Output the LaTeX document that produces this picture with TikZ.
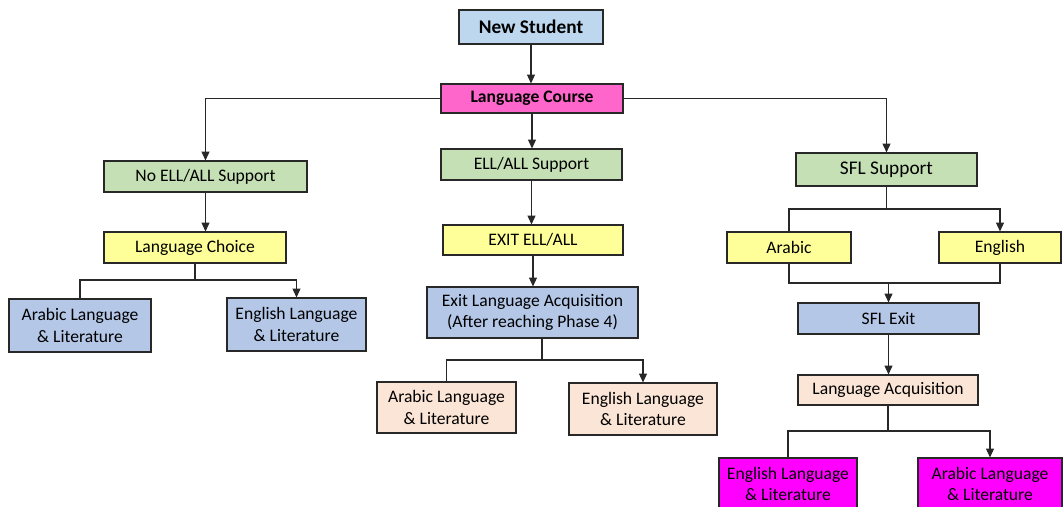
\documentclass[tikz,border=0pt]{standalone}
\usepackage{fontspec}
\setmainfont{Carlito}
\usepackage{tikz}
\usetikzlibrary{arrows.meta}
\definecolor{myblue}{RGB}{189,215,238}
\definecolor{myboxblue}{RGB}{180,199,231}
\definecolor{mygreen}{RGB}{197,224,180}
\definecolor{myyellow}{RGB}{255,255,153}
\definecolor{mypeach}{RGB}{251,229,214}
\definecolor{mypink}{RGB}{255,102,204}
\definecolor{mymagenta}{RGB}{255,0,255}
\definecolor{myline}{RGB}{40,40,40}
\tikzset{
		boxStyle/.style = 	{draw=myline, line width=0.6pt, align=center, inner sep=1pt, font=\fontsize{10}{12}\selectfont},
		edgeStyle/.style = 	{line width=0.6pt, draw=myline},
		arrowStyle/.style = 	{edgeStyle, -{Triangle[length=5pt,width=4.5pt]}},
		green/.style = 	{boxStyle, fill=mygreen},
		yellow/.style = 	{boxStyle, fill=myyellow},
		blueBox/.style = 	{boxStyle, fill=myboxblue},
		peach/.style = 	{boxStyle, fill=mypeach}
}

\begin{document}
\begin{tikzpicture}
  \useasboundingbox (0,0) rectangle (21.26,-10.14);

  % top of the tree
  \node [boxStyle, fill=myblue, minimum width=2.88cm, minimum height=0.68cm, font=\fontsize{11}{13}\selectfont\bfseries] (newStudent) at (10.62,-0.54) {New Student};
  \node [boxStyle, fill=mypink, minimum width=3.64cm, minimum height=0.58cm, font=\fontsize{10}{12}\selectfont\bfseries] (langCourse) at (10.64,-1.97) {Language Course};

  % left branch
  \node [green, minimum width=4.06cm, minimum height=0.62cm] (noSupport) at (4.11,-3.53) {No ELL/ALL Support};
  \node [yellow, minimum width=3.64cm, minimum height=0.62cm] (langChoice) at (3.90,-4.95) {Language Choice};
  \node [blueBox, minimum width=2.84cm, minimum height=1.06cm] (arabicA) at (1.60,-6.51) {Arabic Language\\ \& Literature};
  \node [blueBox, minimum width=2.78cm, minimum height=1.06cm] (englishA) at (5.93,-6.49) {English Language\\ \& Literature};

  % middle branch
  \node [green, minimum width=3.62cm, minimum height=0.62cm] (support) at (10.63,-3.29) {ELL/ALL Support};
  \node [yellow, minimum width=3.60cm, minimum height=0.60cm] (exitSupport) at (10.66,-4.80) {EXIT ELL/ALL};
  \node [blueBox, minimum width=4.22cm, minimum height=1.02cm] (exitAcq) at (10.65,-6.25) {Exit Language Acquisition\\ (After reaching Phase 4)};
  \node [peach, minimum width=2.78cm, minimum height=1.02cm] (arabicB) at (8.93,-8.15) {Arabic Language\\ \& Literature};
  \node [peach, minimum width=2.96cm, minimum height=1.04cm] (englishB) at (12.86,-8.18) {English Language\\ \& Literature};

  % right branch
  \node [green, minimum width=3.62cm, minimum height=0.66cm, font=\fontsize{11}{13}\selectfont] (sfl) at (17.73,-3.39) {SFL Support};
  \node [yellow, minimum width=2.48cm, minimum height=0.62cm] (arabic) at (15.78,-4.95) {Arabic};
  \node [yellow, minimum width=2.44cm, minimum height=0.62cm] (english) at (20.00,-4.95) {English};
  \node [blueBox, minimum width=3.62cm, minimum height=0.62cm] (sflExit) at (17.77,-6.37) {SFL Exit};
  \node [peach, minimum width=3.60cm, minimum height=0.60cm] (langAcq) at (17.76,-7.80) {Language Acquisition};
  \node [boxStyle, fill=mymagenta, minimum width=2.76cm, minimum height=1.04cm] (englishC) at (15.76,-9.68) {English Language\\ \& Literature};
  \node [boxStyle, fill=mymagenta, minimum width=2.88cm, minimum height=1.04cm] (arabicC) at (19.80,-9.68) {Arabic Language\\ \& Literature};

  % split points
  \coordinate (choiceSplit) at (3.90,-5.60);
  \coordinate (exitSplit) at (10.84,-7.20);
  \coordinate (sflSplit) at (17.73,-4.18);
  \coordinate (sflMerge) at (17.77,-5.66);
  \coordinate (acqSplit) at (17.76,-8.62);

  % straight edges down
  \foreach \a/\b in {newStudent/langCourse, langCourse/support, noSupport/langChoice, support/exitSupport, exitSupport/exitAcq, sflExit/langAcq}
    \draw [arrowStyle] (\a.south) -- (\a.south |- \b.north);
  \draw [arrowStyle] (langCourse.west) -| (noSupport.north);
  \draw [arrowStyle] (langCourse.east) -| (sfl.north);

  % splits into two
  \draw [edgeStyle] (langChoice) -- (choiceSplit);
  \draw [edgeStyle] (exitAcq.south -| exitSplit) -- (exitSplit);
  \draw [edgeStyle] (sfl) -- (sflSplit);
  \draw [edgeStyle] (langAcq) -- (acqSplit);
  \foreach \split/\a/\b in {choiceSplit/arabicA/englishA, exitSplit/arabicB/englishB, sflSplit/arabic/english, acqSplit/englishC/arabicC}
    \draw [arrowStyle] (\split) -| (\a.north) (\split) -| (\b.north);

  % both languages lead to the exit
  \draw [edgeStyle] (arabic.south) |- (sflMerge) -| (english.south);
  \draw [arrowStyle] (sflMerge) -- (sflExit);

\end{tikzpicture}
\end{document}
